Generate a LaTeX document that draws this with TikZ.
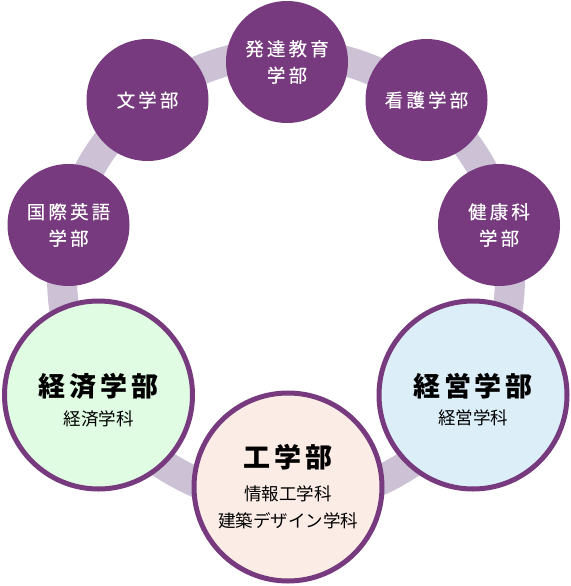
\documentclass[tikz,border=0pt]{standalone}
\usepackage{fontspec}
\newfontfamily\jpw[LetterSpace=17, FakeBold=0.3]{Noto Sans CJK JP}
\newfontfamily\jpt[LetterSpace=14]{Noto Sans CJK JP}
\newfontfamily\jpr{Noto Sans CJK JP}
\definecolor{ringc}{HTML}{CCC1D5}
\definecolor{purp}{HTML}{773A7E}
\definecolor{fgreen}{HTML}{E0FCE2}
\definecolor{fblue}{HTML}{DCEEF8}
\definecolor{fpink}{HTML}{FBECE6}
\tikzset{
  smallc/.style={circle, fill=purp, draw=none, minimum size=122pt, inner sep=0pt,
    align=center, text=white, font={\jpw\fontsize{18.5}{26.5}\selectfont}},
  bigc/.style={circle, draw=purp, line width=5pt, minimum size=188pt, inner sep=0pt},
  titletxt/.style={inner sep=0pt, font={\jpt\bfseries\fontsize{27}{30}\selectfont}},
  subtxt/.style={inner sep=0pt, align=center, font={\jpr\fontsize{17.5}{27}\selectfont}},
}
\begin{document}
\begin{tikzpicture}[x=1pt, y=-1pt]
\useasboundingbox (0,0) rectangle (570,586);
% ring
\node[circle, draw=ringc, line width=30pt, minimum size=448pt, inner sep=0pt] (ring) at (286,277) {};
% small circles
\node[smallc] (hattatsu) at (287,62) {発達教育\\学部};
\node[smallc] (bun) at (147.5,100) {文学部};
\node[smallc] (kango) at (426.5,100) {看護学部};
\node[smallc] (kokusai) at (68.5,225) {国際英語\\学部};
\node[smallc] (kenko) at (499,225) {健康科\\学部};
% big circles
\node[bigc, fill=fgreen] (keizai) at (98.5,395) {};
\node[bigc, fill=fblue] (keiei) at (473,395) {};
\node[bigc, fill=fpink] (kogaku) at (288,487) {};
% texts
\node[titletxt] (keizaiT) at ([yshift=9pt]keizai.center) {経済学部};
\node[subtxt] (keizaiS) at ([yshift=-24pt]keizai.center) {経済学科};
\node[titletxt] (keieiT) at ([yshift=9pt]keiei.center) {経営学部};
\node[subtxt] (keieiS) at ([yshift=-23pt]keiei.center) {経営学科};
\node[titletxt] (kogakuT) at ([yshift=30pt]kogaku.center) {工学部};
\node[subtxt] (kogakuS) at ([yshift=-20pt]kogaku.center) {情報工学科\\建築デザイン学科};
\end{tikzpicture}
\end{document}
